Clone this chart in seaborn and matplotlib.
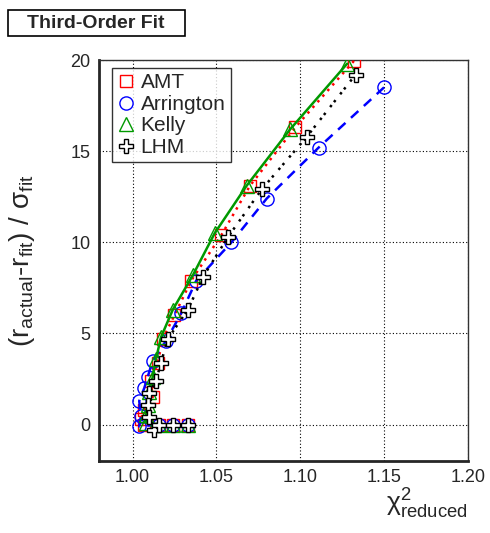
import numpy as np
import pandas as pd
import seaborn as sns
import matplotlib.pyplot as plt
from matplotlib.patches import Rectangle
from matplotlib.lines import Line2D
from matplotlib.ticker import MultipleLocator

# chi2_reduced (x) vs (r_actual - r_fit) / sigma_fit (y)
amt_x = [1.132, 1.097, 1.070, 1.053, 1.035, 1.025, 1.018, 1.015, 1.011, 1.012, 1.007, 1.005, 1.007, 1.016, 1.024, 1.033]
amt_y = [19.95, 16.3, 13.1, 10.4, 7.9, 6.0, 4.7, 3.4, 2.4, 1.5, 0.8, 0.3, 0.0, 0.0, 0.0, 0.0]

arr_x = [1.150, 1.111, 1.080, 1.059, 1.038, 1.029, 1.020, 1.012, 1.009, 1.007, 1.004, 1.005, 1.004, 1.016, 1.024, 1.033]
arr_y = [18.5, 15.2, 12.4, 10.0, 7.9, 6.1, 4.6, 3.5, 2.6, 2.0, 1.3, 0.45, -0.1, 0.0, 0.0, 0.0]

kel_x = [1.128, 1.094, 1.068, 1.049, 1.036, 1.024, 1.017, 1.014, 1.012, 1.010, 1.009, 1.008, 1.008, 1.016, 1.024, 1.033]
kel_y = [19.8, 16.2, 13.1, 10.5, 8.2, 6.3, 4.8, 3.6, 2.6, 1.8, 1.1, 0.5, 0.1, 0.0, 0.0, 0.0]

lhm_x = [1.133, 1.104, 1.077, 1.057, 1.042, 1.033, 1.021, 1.017, 1.014, 1.010, 1.009, 1.010, 1.013, 1.016, 1.024, 1.033]
lhm_y = [19.2, 15.8, 12.9, 10.3, 8.1, 6.3, 4.7, 3.4, 2.4, 1.75, 1.1, 0.4, -0.3, 0.0, 0.0, 0.0]

labels = ["AMT", "Arrington", "Kelly", "LHM"]

sns.set_style("white")
plt.rcParams["font.family"] = ["Liberation Sans", "DejaVu Sans"]
plt.rcParams["mathtext.fontset"] = "custom"
plt.rcParams["mathtext.rm"] = "Liberation Sans"
plt.rcParams["mathtext.it"] = "Liberation Sans:italic"
plt.rcParams["mathtext.sf"] = "Liberation Sans"

fig = plt.figure(figsize=(4.9, 5.33), dpi=100)
ax = fig.add_axes([0.202, 0.135, 0.753, 0.7524])

styles = [
    dict(color="#ff0000", linestyle=(0, (1, 2)), marker="s", ms=9),
    dict(color="#0000ff", linestyle=(0, (4, 3)), marker="o", ms=9.5),
    dict(color="#009900", linestyle="-", marker="^", ms=9.5),
    dict(color="#000000", linestyle=(0, (1, 1.5, 1, 3)), marker="P", ms=10),
]
series = [(amt_x, amt_y), (arr_x, arr_y), (kel_x, kel_y), (lhm_x, lhm_y)]

for i, ((xs, ys), st, lab) in enumerate(zip(series, styles, labels)):
    df = pd.DataFrame({"chi2": xs, "dev": ys})
    sns.lineplot(
        data=df, x="chi2", y="dev", ax=ax, sort=False, estimator=None,
        color=st["color"], linestyle=st["linestyle"], linewidth=1.8,
        marker=st["marker"], markersize=st["ms"], markerfacecolor="none" if st["marker"] != "P" else "white",
        markeredgecolor=st["color"], markeredgewidth=1.0, zorder=3 + i,
    )

ax.set_xlim(0.98, 1.20)
ax.set_ylim(-2, 20)
ax.xaxis.set_major_locator(MultipleLocator(0.05))
ax.xaxis.set_minor_locator(MultipleLocator(0.01))
ax.yaxis.set_major_locator(MultipleLocator(5))
ax.yaxis.set_minor_locator(MultipleLocator(1))
ax.set_xticks([1.00, 1.05, 1.10, 1.15, 1.20])
ax.set_xticklabels(["1.00", "1.05", "1.10", "1.15", "1.20"])
ax.tick_params(which="both", direction="in", top=False, right=False, labelsize=13, pad=6)
ax.tick_params(which="major", length=9, width=1)
ax.tick_params(which="minor", length=5, width=1)
ax.grid(True, which="major", color="black", linestyle=(0, (1, 2)), linewidth=0.8)

for side in ["left", "bottom"]:
    ax.spines[side].set_linewidth(2)
for side in ["top", "right"]:
    ax.spines[side].set_linewidth(1)
    ax.spines[side].set_color("#333333")

ax.set_xlabel(r"$\mathrm{\chi}^{2}_{\mathrm{reduced}}$", fontsize=19, loc="right", labelpad=0)
ax.set_ylabel(r"$\mathrm{(r_{actual}\text{-}r_{fit})\ /\ \sigma_{fit}}$", fontsize=20, labelpad=24)

handles = [
    Line2D([], [], linestyle="none", marker=st["marker"], markersize=st["ms"],
           markerfacecolor="none" if st["marker"] != "P" else "white",
           markeredgecolor=st["color"], markeredgewidth=1.0)
    for st in styles
]
leg = ax.legend(handles, labels, loc="upper left", bbox_to_anchor=(0.025, 0.99), fontsize=15,
                frameon=True, fancybox=False, edgecolor="black", handlelength=0.8,
                handletextpad=0.3, borderpad=0.25, labelspacing=0.12, borderaxespad=0.2)
leg.get_frame().set_linewidth(1.0)
leg.set_zorder(10)

fig.patches.append(Rectangle((8 / 490, 1 - 36 / 533), 177 / 490, 26 / 533, transform=fig.transFigure,
                             facecolor="white", edgecolor="black", linewidth=1.2))
fig.text(96 / 490, 1 - 23 / 533, "Third-Order Fit", ha="center", va="center", fontsize=14, fontweight="bold")

fig.savefig("out.png", dpi=100)
